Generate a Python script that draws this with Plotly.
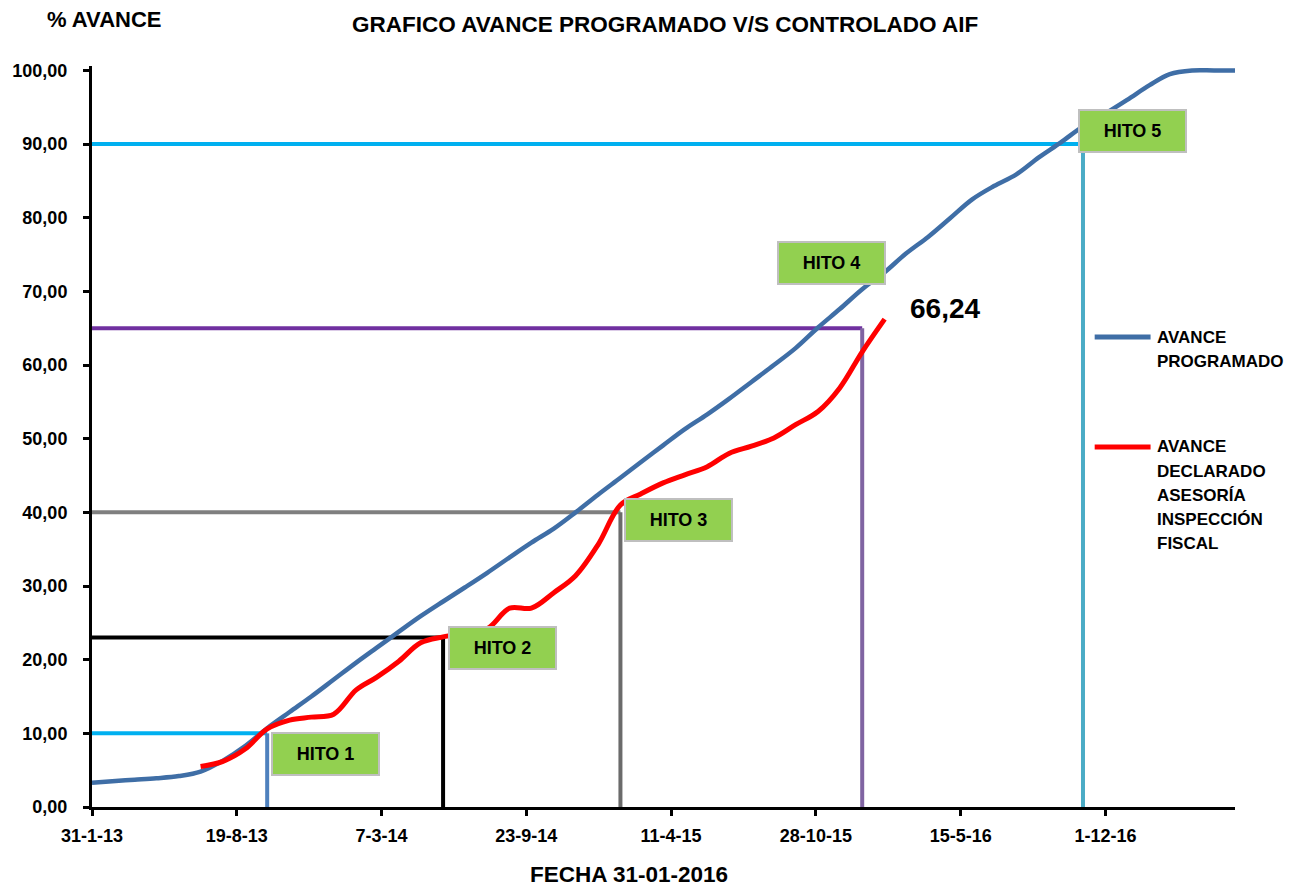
import plotly.graph_objects as go
from datetime import date, timedelta

# ---------------- DATA ----------------
prog_dates = [
    "2013-01-31", "2013-02-28", "2013-03-31", "2013-04-30", "2013-05-31", "2013-06-30",
    "2013-07-31", "2013-08-31", "2013-09-30", "2013-10-31", "2013-11-30", "2013-12-31",
    "2014-01-31", "2014-02-28", "2014-03-31", "2014-04-30", "2014-05-31", "2014-06-30",
    "2014-07-31", "2014-08-31", "2014-09-30", "2014-10-31", "2014-11-30", "2014-12-31",
    "2015-01-31", "2015-02-28", "2015-03-31", "2015-04-30", "2015-05-31", "2015-06-30",
    "2015-07-31", "2015-08-31", "2015-09-30", "2015-10-31", "2015-11-30", "2015-12-31",
    "2016-01-31", "2016-02-29", "2016-03-31", "2016-04-30", "2016-05-31", "2016-06-30",
    "2016-07-31", "2016-08-31", "2016-09-30", "2016-10-31", "2016-11-30", "2016-12-31",
    "2017-01-31", "2017-02-28", "2017-03-31", "2017-04-30", "2017-05-31",
]
prog_values = [
    3.3, 3.5, 3.7, 3.9, 4.2, 4.8,
    6.3, 8.3, 10.7, 12.9, 15.0, 17.3,
    19.6, 21.6, 23.8, 25.9, 27.9, 29.8,
    31.8, 33.9, 35.9, 37.8, 40.0, 42.4,
    44.7, 46.8, 49.1, 51.3, 53.3, 55.4,
    57.7, 60.0, 62.3, 65.1, 67.6, 70.3,
    72.6, 75.1, 77.4, 79.9, 82.5, 84.3,
    85.9, 88.2, 90.2, 92.4, 94.1, 96.0,
    98.0, 99.5, 100.0, 100.0, 100.0,
]

decl_dates = [
    "2013-06-30", "2013-07-31", "2013-08-31", "2013-09-30", "2013-10-31", "2013-11-30",
    "2013-12-31", "2014-01-31", "2014-02-28", "2014-03-31", "2014-04-30", "2014-05-31",
    "2014-06-30", "2014-07-31", "2014-08-31", "2014-09-30", "2014-10-31", "2014-11-30",
    "2014-12-31", "2015-01-31", "2015-02-28", "2015-03-31", "2015-04-30", "2015-05-31",
    "2015-06-30", "2015-07-31", "2015-08-31", "2015-09-30", "2015-10-31", "2015-11-30",
    "2015-12-31", "2016-01-31",
]
decl_values = [
    5.5, 6.2, 7.9, 10.6, 11.8, 12.2,
    12.6, 15.9, 17.6, 19.8, 22.3, 23.1,
    23.6, 24.2, 27.0, 27.0, 29.1, 31.4,
    35.6, 41.0, 42.5, 44.0, 45.1, 46.2,
    48.0, 49.0, 50.1, 51.9, 53.7, 56.9,
    61.8, 66.24,
]
last_value_label = "66,24"

hito_names = ["HITO 1", "HITO 2", "HITO 3", "HITO 4", "HITO 5"]
hito_dates = ["2013-09-30", "2014-05-31", "2015-01-31", "2015-12-31", "2016-10-31"]
hito_values = [10, 23, 40, 65, 90]

x_tick_dates = ["2013-01-31", "2013-08-19", "2014-03-07", "2014-09-23",
                "2015-04-11", "2015-10-28", "2016-05-15", "2016-12-01"]
x_tick_labels = ["31-1-13", "19-8-13", "7-3-14", "23-9-14",
                 "11-4-15", "28-10-15", "15-5-16", "1-12-16"]
y_tick_vals = [0, 10, 20, 30, 40, 50, 60, 70, 80, 90, 100]
y_tick_labels = ["0,00", "10,00", "20,00", "30,00", "40,00", "50,00",
                 "60,00", "70,00", "80,00", "90,00", "100,00"]

series_names = ["AVANCE PROGRAMADO", "AVANCE DECLARADO ASESORÍA INSPECCIÓN FISCAL"]
legend_lines = [["AVANCE", "PROGRAMADO"],
                ["AVANCE", "DECLARADO", "ASESORÍA", "INSPECCIÓN", "FISCAL"]]

title_text = "GRAFICO AVANCE PROGRAMADO V/S CONTROLADO AIF"
y_title_text = "% AVANCE"
x_title_text = "FECHA 31-01-2016"

# ---------------- STYLE / LAYOUT ----------------
W, H = 1292, 888
FONT = "Liberation Sans, Arial, sans-serif"
PLOT_L, PLOT_R = 89.3, 1234.6          # px of plot area
Y0_PX, Y100_PX = 807.5, 70.0           # px of value 0 and 100
Y_MAX = 100.6
per_unit = (Y0_PX - Y100_PX) / 100.0
top_px = Y0_PX - Y_MAX * per_unit
px_per_day = (1104.5 - 89.3) / 1400.0
x_start = date(2013, 1, 31)
x_end = x_start + timedelta(days=(PLOT_R - PLOT_L) / px_per_day)

BLUE = "#3F6EA6"
RED = "#FF0000"
hito_h_colors = ["#00B0F0", "#000000", "#7F7F7F", "#7030A0", "#00B0F0"]
hito_v_colors = ["#4F81BD", "#000000", "#6B6B6B", "#8064A2", "#4BACC6"]
box_centers_px = [(323, 754.5), (500.5, 648), (676.5, 520), (830, 263), (1132, 131)]


def paper(px, py):
    return ((px - PLOT_L) / (PLOT_R - PLOT_L), (Y0_PX - py) / (Y0_PX - top_px))


fig = go.Figure()

# hito guide lines
for i in range(len(hito_names)):
    fig.add_trace(go.Scatter(
        x=[x_start.isoformat(), hito_dates[i]], y=[hito_values[i], hito_values[i]],
        mode="lines", line=dict(color=hito_h_colors[i], width=4),
        showlegend=False, hoverinfo="skip"))
    fig.add_trace(go.Scatter(
        x=[hito_dates[i], hito_dates[i]], y=[hito_values[i], 0],
        mode="lines", line=dict(color=hito_v_colors[i], width=4),
        showlegend=False, hoverinfo="skip"))

fig.add_trace(go.Scatter(
    x=prog_dates, y=prog_values, mode="lines", name=series_names[0],
    line=dict(color=BLUE, width=4.5, shape="spline", smoothing=1.0),
    showlegend=False))
fig.add_trace(go.Scatter(
    x=decl_dates, y=decl_values, mode="lines", name=series_names[1],
    line=dict(color=RED, width=5, shape="spline", smoothing=1.0),
    showlegend=False))

annotations = []
shapes = []

# hito boxes
for i, name in enumerate(hito_names):
    bx, by = paper(*box_centers_px[i])
    annotations.append(dict(
        x=bx, y=by, xref="paper", yref="paper", text=name, showarrow=False,
        xanchor="center", yanchor="middle", width=105, height=40,
        bgcolor="#92D050", bordercolor="#BFBFBF", borderwidth=2, borderpad=0,
        font=dict(family=FONT, size=18, color="#000000", weight="bold")))

# last value label
lx, ly = paper(944, 308)
annotations.append(dict(x=lx, y=ly, xref="paper", yref="paper", text=last_value_label,
                        showarrow=False, xanchor="center", yanchor="middle",
                        font=dict(family=FONT, size=28, color="#000000", weight="bold")))

# title, axis titles
tx, ty = paper(663, 24)
annotations.append(dict(x=tx, y=ty, xref="paper", yref="paper", text=title_text,
                        showarrow=False, xanchor="center", yanchor="middle",
                        font=dict(family=FONT, size=22.5, color="#000000", weight="bold")))
ax_, ay_ = paper(102, 19)
annotations.append(dict(x=ax_, y=ay_, xref="paper", yref="paper", text=y_title_text,
                        showarrow=False, xanchor="center", yanchor="middle",
                        font=dict(family=FONT, size=22, color="#000000", weight="bold")))
fx, fy = paper(627, 875)
annotations.append(dict(x=fx, y=fy, xref="paper", yref="paper", text=x_title_text,
                        showarrow=False, xanchor="center", yanchor="middle",
                        font=dict(family=FONT, size=22.5, color="#000000", weight="bold")))

# custom legend
legend_colors = [BLUE, RED]
legend_first_y = [337, 447]
for k in range(2):
    x0, y0 = paper(1094, legend_first_y[k])
    x1, _ = paper(1150, legend_first_y[k])
    shapes.append(dict(type="line", xref="paper", yref="paper", x0=x0, x1=x1, y0=y0, y1=y0,
                       line=dict(color=legend_colors[k], width=5)))
    for j, txt in enumerate(legend_lines[k]):
        px_, py_ = paper(1154, legend_first_y[k] + j * 24.2)
        annotations.append(dict(x=px_, y=py_, xref="paper", yref="paper", text=txt,
                                showarrow=False, xanchor="left", yanchor="middle",
                                font=dict(family=FONT, size=17, color="#000000", weight="bold")))

fig.update_layout(
    width=W, height=H,
    margin=dict(l=PLOT_L, r=W - PLOT_R, t=top_px, b=H - Y0_PX, pad=0),
    paper_bgcolor="white", plot_bgcolor="white",
    showlegend=False,
    annotations=annotations, shapes=shapes,
    xaxis=dict(
        type="date", range=[x_start.isoformat(), x_end.isoformat()],
        tickvals=x_tick_dates, ticktext=x_tick_labels,
        ticks="outside", ticklen=6, tickwidth=3, tickcolor="#000000",
        ticklabelstandoff=4,
        showline=True, linewidth=3, linecolor="#000000",
        showgrid=False, zeroline=False,
        tickfont=dict(family=FONT, size=18, color="#000000", weight="bold"),
    ),
    yaxis=dict(
        range=[0, Y_MAX],
        tickvals=y_tick_vals, ticktext=y_tick_labels,
        ticks="outside", ticklen=6, tickwidth=3, tickcolor="#000000",
        ticklabelstandoff=12,
        showline=True, linewidth=3, linecolor="#000000",
        showgrid=False, zeroline=False,
        tickfont=dict(family=FONT, size=18, color="#000000", weight="bold"),
    ),
)

fig.write_html("out.html",
               config={"displayModeBar": False},
               post_script="document.body.style.margin='0px';document.body.style.overflow='hidden';")
